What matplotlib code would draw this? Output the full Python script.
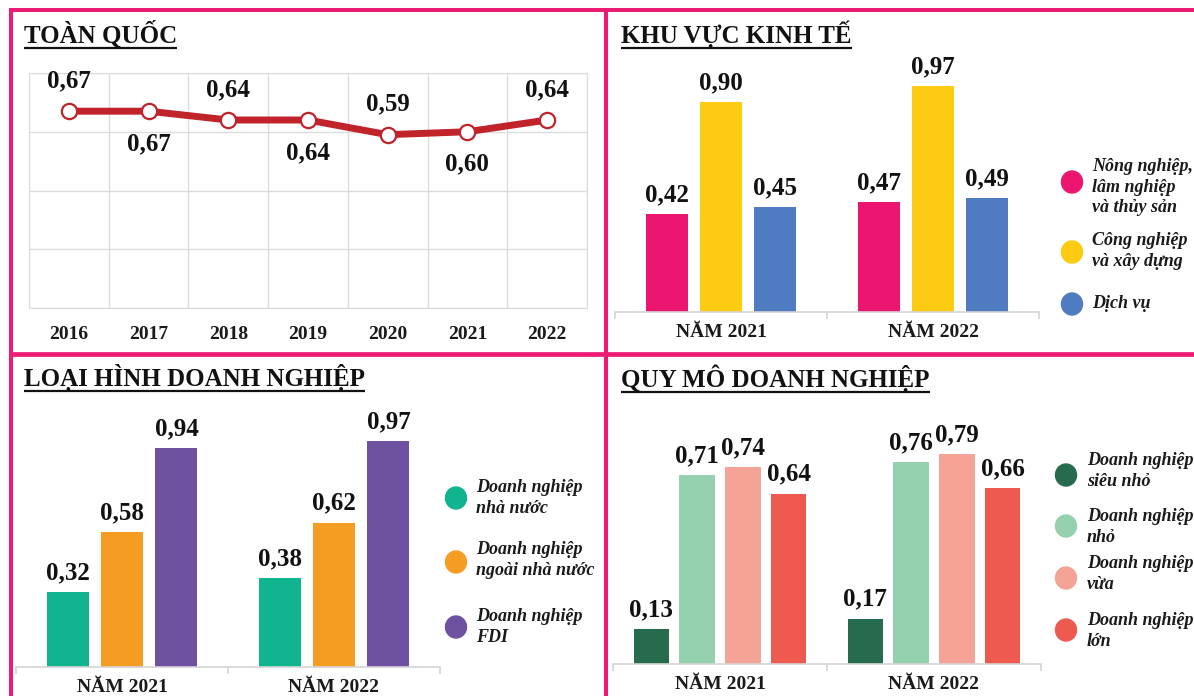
import matplotlib

matplotlib.use("Agg")
import matplotlib.pyplot as plt
from matplotlib.patches import Ellipse

plt.rcParams["font.family"] = ["Liberation Serif", "DejaVu Serif"]
plt.rcParams["font.weight"] = "bold"

W, H = 1194, 696
BORDER = "#EC1C74"
GRID = "#DCDCDC"
AXIS = "#D4D4D4"

# ── data ─────────────────────────────────────────────────────────────
years = ["2016", "2017", "2018", "2019", "2020", "2021", "2022"]
national = [0.67, 0.67, 0.64, 0.64, 0.59, 0.60, 0.64]
national_above = [True, False, True, False, True, False, True]

groups = ["NĂM 2021", "NĂM 2022"]

sector_names = ["Nông nghiệp,\nlâm nghiệp\nvà thủy sản", "Công nghiệp\nvà xây dựng", "Dịch vụ"]
sector_colors = ["#EC156F", "#FCCB12", "#4F7CC1"]
sector_vals = [[0.42, 0.47], [0.90, 0.97], [0.45, 0.49]]

owner_names = ["Doanh nghiệp\nnhà nước", "Doanh nghiệp\nngoài nhà nước", "Doanh nghiệp\nFDI"]
owner_colors = ["#10B48E", "#F59C22", "#6E51A0"]
owner_vals = [[0.32, 0.38], [0.58, 0.62], [0.94, 0.97]]

size_names = ["Doanh nghiệp\nsiêu nhỏ", "Doanh nghiệp\nnhỏ", "Doanh nghiệp\nvừa", "Doanh nghiệp\nlớn"]
size_colors = ["#276B4F", "#95D0AF", "#F4A396", "#EF5A50"]
size_vals = [[0.13, 0.17], [0.71, 0.76], [0.74, 0.79], [0.64, 0.66]]


def fmt(v):
    return f"{v:.2f}".replace(".", ",")


fig = plt.figure(figsize=(W / 100, H / 100), dpi=100)
fig.patch.set_facecolor("white")


def px_axes(x0, y0, x1, y1):
    """Axes placed by pixel box (top-left origin)."""
    ax = fig.add_axes([x0 / W, 1 - y1 / H, (x1 - x0) / W, (y1 - y0) / H])
    ax.set_facecolor("none")
    return ax


# overlay in pixel coordinates for frames, titles and legends
ov = fig.add_axes([0, 0, 1, 1], zorder=10)
ov.set_xlim(0, W)
ov.set_ylim(H, 0)
ov.axis("off")
ov.set_facecolor("none")


def title(x, y_base, s):
    t = ov.text(x, y_base, s, fontsize=18, fontweight="bold", ha="left", va="baseline",
                color="#111111")
    fig.canvas.draw()
    bb = t.get_window_extent()
    ov.plot([x, x + bb.width], [y_base + 5, y_base + 5], color="#111111", lw=1.6,
            solid_capstyle="butt")


def legend(x_dot, x_txt, items, ys_dot, ys_txt):
    for (name, col), yd, yt in zip(items, ys_dot, ys_txt):
        ov.add_patch(Ellipse((x_dot, yd), 21, 22, color=col))
        ov.text(x_txt, yt, name, fontsize=13, style="italic", fontweight="bold",
                ha="left", va="center", linespacing=1.3, color="#1A1A1A")


def bar_panel(box, vals, colors, offsets, width, ymax):
    ax = px_axes(*box)
    ax.set_xlim(-0.5, 1.5)
    ax.set_ylim(0, ymax)
    for series, col, off in zip(vals, colors, offsets):
        xs = [i + off for i in range(len(series))]
        ax.bar(xs, series, width=width, color=col, zorder=2)
        for x, v in zip(xs, series):
            ax.annotate(fmt(v), xy=(x, v), xytext=(0, 13), textcoords="offset pixels",
                        ha="center", va="baseline", fontsize=18, fontweight="bold",
                        annotation_clip=False, color="#111111")
    for i, g in enumerate(groups):
        ax.annotate(g, xy=(i, 0), xytext=(0, -25), textcoords="offset pixels",
                    ha="center", va="baseline", fontsize=14, fontweight="bold",
                    annotation_clip=False, color="#1A1A1A")
    for s in ["top", "right", "left"]:
        ax.spines[s].set_visible(False)
    ax.spines["bottom"].set_color(AXIS)
    ax.spines["bottom"].set_linewidth(1.2)
    ax.set_yticks([])
    ax.set_xticks([-0.5, 0.5, 1.5], ["", "", ""])
    ax.tick_params(axis="x", length=5, color=AXIS, width=1.2)
    return ax


# ── panel 1: national line ──────────────────────────────────────────
ax1 = px_axes(29, 73, 587, 308)
xs = list(range(len(years)))
ax1.set_xlim(-0.5, len(years) - 0.5)
ax1.set_ylim(0, 0.8)
ax1.set_xticks([x - 0.5 for x in xs] + [len(years) - 0.5])
ax1.set_yticks([0, 0.2, 0.4, 0.6, 0.8])
ax1.grid(True, color=GRID, lw=1)
ax1.tick_params(length=0, labelbottom=False, labelleft=False)
for s in ax1.spines.values():
    s.set_color(GRID)
ax1.plot(xs, national, color="#C1232B", lw=5, marker="o", markersize=11,
         markerfacecolor="white", markeredgecolor="#C1232B", markeredgewidth=1.6,
         zorder=3, clip_on=False)
for x, v, up in zip(xs, national, national_above):
    ax1.annotate(fmt(v), xy=(x, v), xytext=(0, 24 if up else -39), textcoords="offset pixels",
                 ha="center", va="baseline", fontsize=18, fontweight="bold",
                 annotation_clip=False, color="#111111")
for x, y in zip(xs, years):
    ax1.annotate(y, xy=(x, 0), xytext=(0, -31), textcoords="offset pixels",
                 ha="center", va="baseline", fontsize=14, fontweight="bold",
                 annotation_clip=False, color="#1A1A1A")

# ── panel 2: economic sector ────────────────────────────────────────
bar_panel((615, 79, 1039, 312), sector_vals, sector_colors,
          [-0.256, 0, 0.256], 0.198, 1.0)

# ── panel 3: ownership type ─────────────────────────────────────────
bar_panel((16, 434, 440, 667), owner_vals, owner_colors,
          [-0.257, 0, 0.257], 0.198, 1.0)

# ── panel 4: enterprise size ────────────────────────────────────────
bar_panel((613, 398, 1041, 664), size_vals, size_colors,
          [-0.321, -0.107, 0.107, 0.321], 0.166, 1.0)

# ── frames ──────────────────────────────────────────────────────────
lw = 2.9
ov.plot([9, W], [10, 10], color=BORDER, lw=lw, solid_capstyle="butt")
ov.plot([11, 11], [8, H], color=BORDER, lw=lw, solid_capstyle="butt")
ov.plot([606, 606], [10, H], color=BORDER, lw=lw, solid_capstyle="butt")
ov.plot([9, W], [354, 354], color=BORDER, lw=3.4, solid_capstyle="butt")

# ── titles ──────────────────────────────────────────────────────────
title(24, 43, "TOÀN QUỐC")
title(621, 43, "KHU VỰC KINH TẾ")
title(24, 386, "LOẠI HÌNH DOANH NGHIỆP")
title(621, 387, "QUY MÔ DOANH NGHIỆP")

# ── legends ─────────────────────────────────────────────────────────
legend(1072, 1092, list(zip(sector_names, sector_colors)), [182, 252, 304], [187, 251, 304])
legend(456, 476, list(zip(owner_names, owner_colors)), [498, 562, 627], [498, 560, 627])
legend(1066, 1087, list(zip(size_names, size_colors)), [475, 526, 578, 630],
       [471, 527, 574, 631])

fig.savefig("out.png", dpi=100)
